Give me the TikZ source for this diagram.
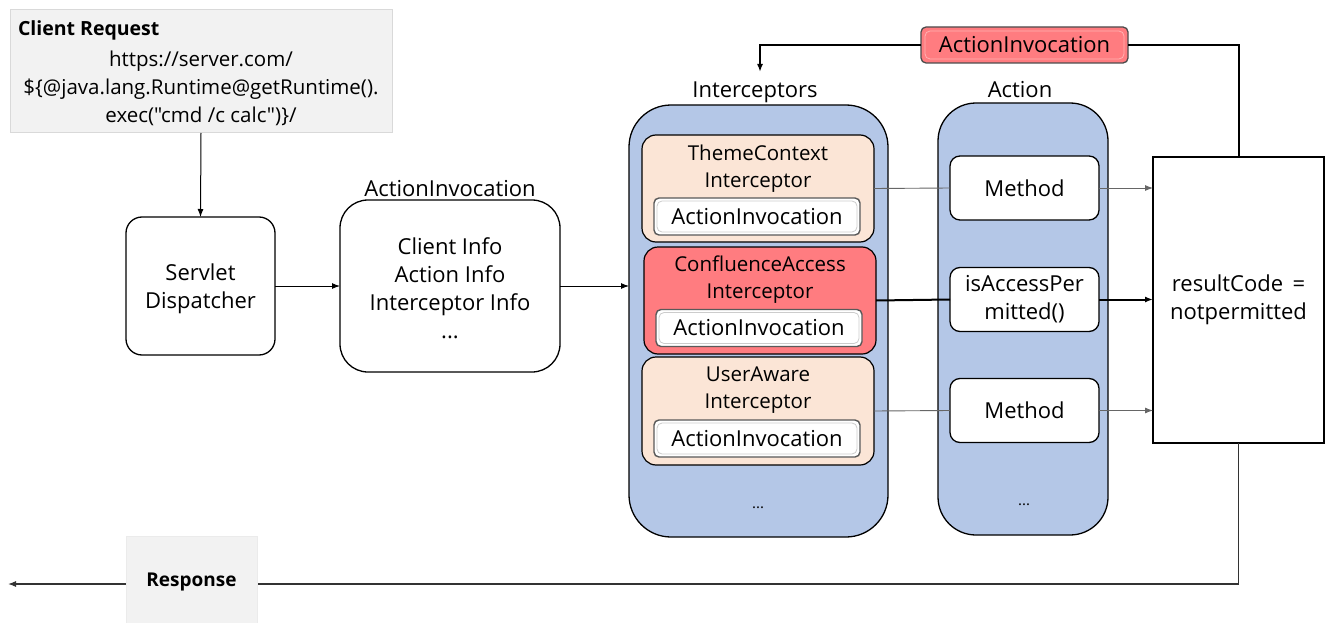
\documentclass[tikz,border=0pt]{standalone}
\usepackage{fontspec}
\setmainfont{Open Sans}
\newfontfamily\plainfont{Open Sans}
\usetikzlibrary{arrows.meta,positioning,calc}
\definecolor{boxblue}{HTML}{B4C7E7}
\definecolor{peach}{HTML}{FBE5D6}
\definecolor{redbox}{HTML}{FF7C80}
\definecolor{lightgray}{HTML}{F2F2F2}
\begin{document}
\begin{tikzpicture}[x=1pt,y=-1pt,
  every node/.style={font=\fontsize{22}{28}\selectfont, inner sep=0pt, outer sep=0pt},
  rbox/.style={draw=black, line width=1.3pt, fill=white, rounded corners=16pt},
  bluebox/.style={draw=black, line width=1.3pt, fill=boxblue, rounded corners=42pt},
  icbox/.style={draw=black, line width=1.2pt, rounded corners=14pt},
  btn/.style={draw=black!65, line width=1.4pt, fill=white, rounded corners=5pt, font=\fontsize{22}{28}\selectfont,
    path picture={\draw[black!20, line width=0.8pt] ([shift={(3pt,-3pt)}]path picture bounding box.north west) rectangle ([shift={(-3pt,3pt)}]path picture bounding box.south east);}},
  graybox/.style={draw=black!15, line width=1pt, fill=lightgray},
  thin/.style={draw=black!60, line width=0.9pt},
  thick/.style={draw=black, line width=2pt},
  arr/.style={-{Latex[length=8pt,width=6pt]}},
  lbl/.style={font=\fontsize{20.5}{27}\selectfont, align=center},
  dots/.style={font=\fontsize{15}{16}\selectfont}
]
\useasboundingbox (0,0) rectangle (1327,623);

% Client request
\node[graybox, minimum width=382pt, minimum height=123pt] (client) at (201,71.5) {};
\node[anchor=west, font=\bfseries\fontsize{19.5}{24}\selectfont] (clienttitle) at (18,30) {Client Request};
\node[align=center, font=\plainfont\fontsize{20.5}{28}\selectfont] (clienturl) at (201,88) {https://server.com/\\\$\{@java.lang.Runtime@getRuntime().\\exec("cmd /c calc")\}/};

% Servlet dispatcher
\node[rbox, minimum width=149pt, minimum height=138pt] (servlet) at (200.5,286) {};
\node[align=center] (servlettext) at (200.5,289) {Servlet\\Dispatcher};

% ActionInvocation
\node[rbox, rounded corners=28pt, minimum width=220pt, minimum height=172pt] (aiv) at (450,286) {};
\node[align=center] (aivtext) at (450,288) {Client Info\\Action Info\\Interceptor Info\\...};
\node (aivlabel) at (450,189) {ActionInvocation};

% Interceptors
\node[bluebox, minimum width=259pt, minimum height=432pt] (icpt) at (758.5,321) {};
\node (icptlabel) at (755,92) {Interceptors};
\node[icbox, fill=peach, minimum width=232pt, minimum height=107pt] (theme) at (758,188.5) {};
\node[lbl] (themetext) at (758,168.5) {ThemeContext\\Interceptor};
\node[btn, minimum width=206pt, minimum height=37pt] (themebtn) at (757,216.5) {ActionInvocation};
\node[icbox, fill=redbox, minimum width=232pt, minimum height=107pt] (conf) at (760,300.5) {};
\node[lbl] (conftext) at (760,279.5) {ConfluenceAccess\\Interceptor};
\node[btn, minimum width=206pt, minimum height=37pt] (confbtn) at (759,328) {ActionInvocation};
\node[icbox, fill=peach, minimum width=232pt, minimum height=108pt] (user) at (758,411) {};
\node[lbl] (usertext) at (758,390.5) {UserAware\\Interceptor};
\node[btn, minimum width=206pt, minimum height=37pt] (userbtn) at (757,438.5) {ActionInvocation};
\node[dots] (icptdots) at (758,508) {...};

% Action
\node[bluebox, rounded corners=38pt, minimum width=170pt, minimum height=432pt] (action) at (1023,319) {};
\node (actionlabel) at (1020,90) {Action};
\node[rbox, rounded corners=10pt, minimum width=149pt, minimum height=64pt] (m1) at (1024.5,188) {Method};
\node[rbox, rounded corners=10pt, minimum width=149pt, minimum height=64pt, align=center] (m2) at (1024.5,299.5) {isAccessPer\\mitted()};
\node[rbox, rounded corners=10pt, minimum width=149pt, minimum height=64pt] (m3) at (1024.5,410.5) {Method};
\node[dots] (actiondots) at (1024,505) {...};

% Result
\node[draw=black, line width=1.3pt, fill=white, minimum width=171pt, minimum height=286pt, align=center] (result) at (1238.5,300) {resultCode \,=\\notpermitted};

% Connectors
\draw[thin] (theme.east) -- (m1.west);
\draw[thin, arr] (m1.east) -- (m1.east -| result.west);
\draw[thick] (conf.east) -- (m2.west);
\draw[thick, arr] (m2.east) -- (m2.east -| result.west);
\draw[thin] (user.east) -- (m3.west);
\draw[thin, arr] (m3.east) -- (m3.east -| result.west);

\draw[line width=1pt, arr] (client.south) -- (servlet.north);
\draw[line width=1pt, arr] (servlet.east) -- (servlet.east -| aiv.west);
\draw[line width=1pt, arr] (aiv.east) -- (aiv.east -| icpt.west);

% Top feedback
\coordinate (topend) at (760,72);
\node[draw=black!70, line width=1.3pt, fill=redbox, rounded corners=5pt, minimum width=207pt, minimum height=36pt,
  path picture={\draw[red!30!white, line width=0.8pt] ([shift={(4pt,-4pt)}]path picture bounding box.north west) rectangle ([shift={(-4pt,4pt)}]path picture bounding box.south east);}] (topbtn) at (1024.5,45) {ActionInvocation};
\draw[thick] (result.north) |- (topbtn.east);
\draw[thick, arr] (topbtn.west) -| (topend);

% Bottom
\coordinate (botend) at (8,584);
\draw[line width=1.1pt, black!80, arr] (result.south) |- (botend);
\node[fill=lightgray, draw=black!8, minimum width=131pt, minimum height=87pt] (response) at (191.5,579.5) {};
\node[font=\bfseries\fontsize{19}{24}\selectfont] (responsetext) at (191.5,582) {Response};
\end{tikzpicture}
\end{document}
